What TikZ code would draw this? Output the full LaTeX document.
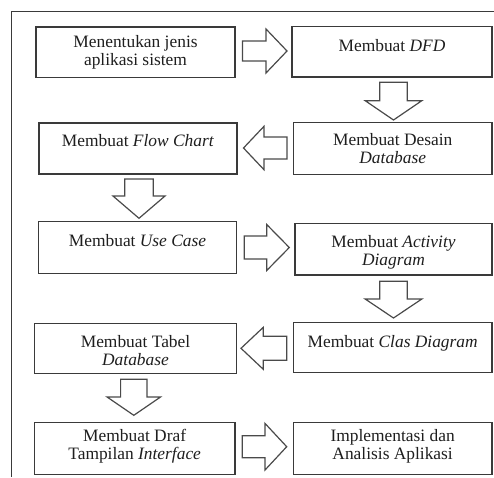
\documentclass[tikz,border=0pt]{standalone}
\usepackage{fontspec}
\setmainfont{Liberation Serif}
\definecolor{boxcol}{HTML}{3A3A3A}
\definecolor{arrcol}{HTML}{4A4A4A}
\definecolor{txtcol}{HTML}{1E1E1E}
\newcommand\hrarr[6]{\draw[blk] (#1,#4-#5) -- (#2,#4-#5) -- (#2,#4-#6) -- (#3,#4) -- (#2,#4+#6) -- (#2,#4+#5) -- (#1,#4+#5) -- cycle;}
\newcommand\vdarr[6]{\draw[blk] (#4-#5,#1) -- (#4-#5,#2) -- (#4-#6,#2) -- (#4,#3) -- (#4+#6,#2) -- (#4+#5,#2) -- (#4+#5,#1) -- cycle;}
\tikzset{
  box/.style={draw=boxcol, line width=1.4pt, inner sep=0pt, outer sep=0pt},
  lbl/.style={anchor=north, inner sep=0pt, align=center, text=txtcol,
              font=\fontsize{17.4}{18}\selectfont},
  blk/.style={draw=arrcol, line width=1.2pt, fill=white, line join=miter},
  frame/.style={draw=boxcol, line width=1pt}
}
\begin{document}
\begin{tikzpicture}[x=1pt,y=-1pt]
\useasboundingbox (0,0) rectangle (494,477);
\draw[frame] (494,11) -- (11.5,11) -- (11.5,477);
% boxes
\node[box, minimum width=199pt, minimum height=50.5pt] (b1) at (135.5,52.25) {};
\node[box, minimum width=200pt, minimum height=50.5pt] (b2) at (392,51.75) {};
\node[box, minimum width=198pt, minimum height=51pt] (b3) at (138,148.5) {};
\node[box, minimum width=198.5pt, minimum height=51.6pt] (b4) at (392.75,148.5) {};
\node[box, minimum width=198.4pt, minimum height=51.6pt] (b5) at (137.5,247.5) {};
\node[box, minimum width=197pt, minimum height=51.7pt] (b6) at (393.5,249.15) {};
\node[box, minimum width=202.4pt, minimum height=50pt] (b7) at (135.5,348.3) {};
\node[box, minimum width=198.7pt, minimum height=49.6pt] (b8) at (392.65,347.5) {};
\node[box, minimum width=200.7pt, minimum height=51.6pt] (b9) at (134.65,448.5) {};
\node[box, minimum width=198.7pt, minimum height=51.6pt] (b10) at (392.65,448.5) {};
% texts
\node[lbl] (t1) at ([yshift=-8.6pt]b1.north) {Menentukan jenis\\aplikasi sistem};
\node[lbl] (t2) at ([yshift=-12.6pt]b2.north) {Membuat \textit{DFD}};
\node[lbl] (t3) at ([yshift=-11.6pt]b3.north) {Membuat \textit{Flow Chart}};
\node[lbl] (t4) at ([yshift=-10.1pt]b4.north) {Membuat Desain\\\textit{Database}};
\node[lbl] (t5) at ([yshift=-12.6pt]b5.north) {Membuat \textit{Use Case}};
\node[lbl] (t6) at ([yshift=-11.6pt]b6.north) {Membuat \textit{Activity}\\\textit{Diagram}};
\node[lbl] (t7) at ([yshift=-11.6pt]b7.north) {Membuat Tabel\\\textit{Database}};
\node[lbl] (t8) at ([yshift=-12.1pt]b8.north) {Membuat \textit{Clas Diagram}};
\node[lbl] (t9) at ([yshift=-6.6pt]b9.north) {Membuat Draf\\Tampilan \textit{Interface}};
\node[lbl] (t10) at ([yshift=-6.6pt]b10.north) {Implementasi dan\\Analisis Aplikasi};
% block arrows
\hrarr{242.5}{266}{287}{51}{10}{22}
\hrarr{287}{264}{243.5}{148}{11}{21.7}
\hrarr{244.3}{266.7}{289.3}{247.5}{11.5}{23}
\hrarr{286.7}{263.3}{241}{348.3}{12}{21}
\hrarr{242.3}{265}{286.7}{446.7}{11}{23.3}
\vdarr{82.3}{100.7}{120}{393.5}{13.7}{28.3}
\vdarr{179}{196}{218.3}{139}{14.3}{26}
\vdarr{281.3}{299}{318}{393.5}{13.7}{28.3}
\vdarr{379.3}{397}{415.3}{133.8}{13.2}{26.7}
\end{tikzpicture}
\end{document}
